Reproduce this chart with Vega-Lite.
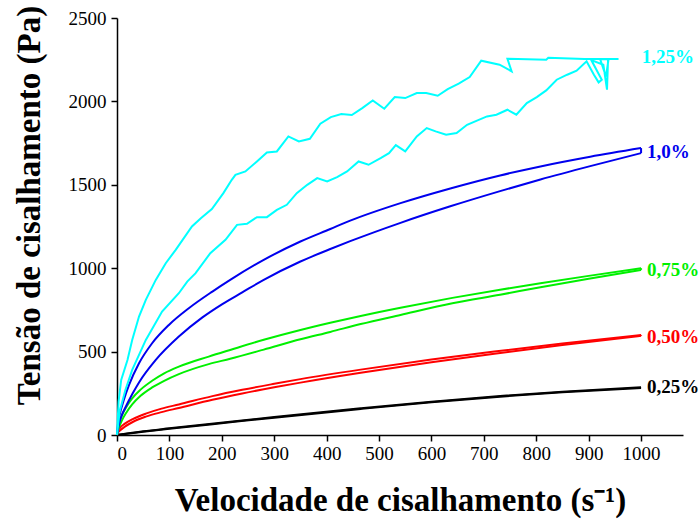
{
  "$schema": "https://vega.github.io/schema/vega-lite/v6.json",
  "autosize": "none",
  "width": 566,
  "height": 417,
  "padding": {"left": 117, "top": 18, "right": 16, "bottom": 85},
  "background": "white",
  "config": {
    "view": {"stroke": null},
    "font": "Liberation Serif",
    "axis": {
      "grid": false,
      "domainColor": "black",
      "domainWidth": 1.5,
      "tickColor": "black",
      "tickWidth": 1.5,
      "tickSize": 6,
      "labelFont": "Liberation Serif",
      "labelFontSize": 19,
      "labelColor": "black",
      "titleFont": "Liberation Serif",
      "titleFontSize": 33,
      "titleFontWeight": "bold",
      "titleColor": "black"
    }
  },
  "datasets": {
    "smooth": [
      {"s":"0,25%","b":"u","x":0,"y":0},{"s":"0,25%","b":"u","x":50,"y":22},{"s":"0,25%","b":"u","x":100,"y":40},{"s":"0,25%","b":"u","x":216,"y":80},{"s":"0,25%","b":"u","x":300,"y":108},{"s":"0,25%","b":"u","x":465,"y":160},{"s":"0,25%","b":"u","x":600,"y":200},{"s":"0,25%","b":"u","x":731,"y":234},{"s":"0,25%","b":"u","x":850,"y":260},{"s":"0,25%","b":"u","x":1000,"y":286},
      {"s":"0,25%","b":"l","x":0,"y":0},{"s":"0,25%","b":"l","x":50,"y":19},{"s":"0,25%","b":"l","x":100,"y":37},{"s":"0,25%","b":"l","x":216,"y":76},{"s":"0,25%","b":"l","x":300,"y":104},{"s":"0,25%","b":"l","x":465,"y":156},{"s":"0,25%","b":"l","x":600,"y":196},{"s":"0,25%","b":"l","x":731,"y":230},{"s":"0,25%","b":"l","x":850,"y":256},{"s":"0,25%","b":"l","x":1000,"y":282},

      {"s":"0,50%","b":"u","x":0,"y":0},{"s":"0,50%","b":"u","x":2,"y":25},{"s":"0,50%","b":"u","x":5,"y":40},{"s":"0,50%","b":"u","x":15,"y":68},{"s":"0,50%","b":"u","x":30,"y":95},{"s":"0,50%","b":"u","x":55,"y":128},{"s":"0,50%","b":"u","x":85,"y":158},{"s":"0,50%","b":"u","x":118,"y":183},{"s":"0,50%","b":"u","x":182,"y":233},{"s":"0,50%","b":"u","x":239,"y":271},{"s":"0,50%","b":"u","x":300,"y":307},{"s":"0,50%","b":"u","x":350,"y":335},{"s":"0,50%","b":"u","x":465,"y":392},{"s":"0,50%","b":"u","x":600,"y":452},{"s":"0,50%","b":"u","x":720,"y":500},{"s":"0,50%","b":"u","x":850,"y":548},{"s":"0,50%","b":"u","x":1000,"y":600},
      {"s":"0,50%","b":"l","x":0,"y":0},{"s":"0,50%","b":"l","x":2,"y":15},{"s":"0,50%","b":"l","x":5,"y":25},{"s":"0,50%","b":"l","x":15,"y":50},{"s":"0,50%","b":"l","x":30,"y":78},{"s":"0,50%","b":"l","x":55,"y":110},{"s":"0,50%","b":"l","x":85,"y":137},{"s":"0,50%","b":"l","x":118,"y":162},{"s":"0,50%","b":"l","x":182,"y":211},{"s":"0,50%","b":"l","x":239,"y":249},{"s":"0,50%","b":"l","x":300,"y":286},{"s":"0,50%","b":"l","x":350,"y":314},{"s":"0,50%","b":"l","x":465,"y":373},{"s":"0,50%","b":"l","x":600,"y":436},{"s":"0,50%","b":"l","x":720,"y":487},{"s":"0,50%","b":"l","x":850,"y":539},{"s":"0,50%","b":"l","x":1000,"y":595},
      {"s":"0,50%","b":"c","x":1000,"y":595},{"s":"0,50%","b":"c","x":1000,"y":600},

      {"s":"0,75%","b":"u","x":0,"y":0},{"s":"0,75%","b":"u","x":2,"y":50},{"s":"0,75%","b":"u","x":5,"y":80},{"s":"0,75%","b":"u","x":9,"y":115},{"s":"0,75%","b":"u","x":18,"y":170},{"s":"0,75%","b":"u","x":29,"y":220},{"s":"0,75%","b":"u","x":45,"y":272},{"s":"0,75%","b":"u","x":67,"y":325},{"s":"0,75%","b":"u","x":90,"y":370},{"s":"0,75%","b":"u","x":118,"y":410},{"s":"0,75%","b":"u","x":175,"y":470},{"s":"0,75%","b":"u","x":216,"y":510},{"s":"0,75%","b":"u","x":280,"y":571},{"s":"0,75%","b":"u","x":350,"y":630},{"s":"0,75%","b":"u","x":407,"y":673},{"s":"0,75%","b":"u","x":465,"y":714},{"s":"0,75%","b":"u","x":541,"y":763},{"s":"0,75%","b":"u","x":640,"y":822},{"s":"0,75%","b":"u","x":731,"y":871},{"s":"0,75%","b":"u","x":808,"y":910},{"s":"0,75%","b":"u","x":900,"y":954},{"s":"0,75%","b":"u","x":1000,"y":1000},
      {"s":"0,75%","b":"l","x":0,"y":0},{"s":"0,75%","b":"l","x":2,"y":30},{"s":"0,75%","b":"l","x":5,"y":55},{"s":"0,75%","b":"l","x":9,"y":85},{"s":"0,75%","b":"l","x":18,"y":135},{"s":"0,75%","b":"l","x":29,"y":183},{"s":"0,75%","b":"l","x":45,"y":235},{"s":"0,75%","b":"l","x":67,"y":285},{"s":"0,75%","b":"l","x":90,"y":325},{"s":"0,75%","b":"l","x":118,"y":365},{"s":"0,75%","b":"l","x":175,"y":425},{"s":"0,75%","b":"l","x":216,"y":457},{"s":"0,75%","b":"l","x":280,"y":512},{"s":"0,75%","b":"l","x":350,"y":574},{"s":"0,75%","b":"l","x":407,"y":618},{"s":"0,75%","b":"l","x":465,"y":665},{"s":"0,75%","b":"l","x":541,"y":720},{"s":"0,75%","b":"l","x":640,"y":790},{"s":"0,75%","b":"l","x":731,"y":841},{"s":"0,75%","b":"l","x":808,"y":886},{"s":"0,75%","b":"l","x":900,"y":937},{"s":"0,75%","b":"l","x":1000,"y":990},
      {"s":"0,75%","b":"c","x":1000,"y":990},{"s":"0,75%","b":"c","x":1000,"y":1000},

      {"s":"1,0%","b":"u","x":0,"y":0},{"s":"1,0%","b":"u","x":2,"y":70},{"s":"1,0%","b":"u","x":5,"y":120},{"s":"1,0%","b":"u","x":13,"y":210},{"s":"1,0%","b":"u","x":23,"y":300},{"s":"1,0%","b":"u","x":42,"y":430},{"s":"1,0%","b":"u","x":67,"y":550},{"s":"1,0%","b":"u","x":99,"y":660},{"s":"1,0%","b":"u","x":137,"y":760},{"s":"1,0%","b":"u","x":182,"y":860},{"s":"1,0%","b":"u","x":216,"y":930},{"s":"1,0%","b":"u","x":280,"y":1050},{"s":"1,0%","b":"u","x":350,"y":1160},{"s":"1,0%","b":"u","x":407,"y":1235},{"s":"1,0%","b":"u","x":445,"y":1285},{"s":"1,0%","b":"u","x":541,"y":1390},{"s":"1,0%","b":"u","x":636,"y":1478},{"s":"1,0%","b":"u","x":731,"y":1556},{"s":"1,0%","b":"u","x":808,"y":1610},{"s":"1,0%","b":"u","x":903,"y":1668},{"s":"1,0%","b":"u","x":1000,"y":1720},
      {"s":"1,0%","b":"l","x":0,"y":0},{"s":"1,0%","b":"l","x":2,"y":40},{"s":"1,0%","b":"l","x":5,"y":80},{"s":"1,0%","b":"l","x":10,"y":125},{"s":"1,0%","b":"l","x":16,"y":165},{"s":"1,0%","b":"l","x":30,"y":250},{"s":"1,0%","b":"l","x":42,"y":315},{"s":"1,0%","b":"l","x":74,"y":450},{"s":"1,0%","b":"l","x":118,"y":590},{"s":"1,0%","b":"l","x":163,"y":705},{"s":"1,0%","b":"l","x":201,"y":785},{"s":"1,0%","b":"l","x":239,"y":855},{"s":"1,0%","b":"l","x":280,"y":930},{"s":"1,0%","b":"l","x":350,"y":1040},{"s":"1,0%","b":"l","x":407,"y":1115},{"s":"1,0%","b":"l","x":445,"y":1162},{"s":"1,0%","b":"l","x":541,"y":1272},{"s":"1,0%","b":"l","x":636,"y":1371},{"s":"1,0%","b":"l","x":731,"y":1462},{"s":"1,0%","b":"l","x":808,"y":1532},{"s":"1,0%","b":"l","x":903,"y":1612},{"s":"1,0%","b":"l","x":1000,"y":1690},
      {"s":"1,0%","b":"c","x":1000,"y":1690},{"s":"1,0%","b":"c","x":1000,"y":1720}
    ],
    "cyan": [
      {"s":"1,25%","o":1,"x":0,"y":0},{"s":"1,25%","o":2,"x":5,"y":140},{"s":"1,25%","o":3,"x":16,"y":270},{"s":"1,25%","o":4,"x":29,"y":390},{"s":"1,25%","o":5,"x":55,"y":570},{"s":"1,25%","o":6,"x":86,"y":740},{"s":"1,25%","o":7,"x":118,"y":850},{"s":"1,25%","o":8,"x":134,"y":920},{"s":"1,25%","o":9,"x":150,"y":970},{"s":"1,25%","o":10,"x":178,"y":1090},{"s":"1,25%","o":11,"x":207,"y":1170},{"s":"1,25%","o":12,"x":229,"y":1260},{"s":"1,25%","o":13,"x":248,"y":1266},{"s":"1,25%","o":14,"x":267,"y":1306},{"s":"1,25%","o":15,"x":286,"y":1306},{"s":"1,25%","o":16,"x":305,"y":1350},{"s":"1,25%","o":17,"x":324,"y":1380},{"s":"1,25%","o":18,"x":343,"y":1450},{"s":"1,25%","o":19,"x":363,"y":1500},{"s":"1,25%","o":20,"x":382,"y":1540},{"s":"1,25%","o":21,"x":401,"y":1520},{"s":"1,25%","o":22,"x":420,"y":1546},{"s":"1,25%","o":23,"x":439,"y":1580},{"s":"1,25%","o":24,"x":461,"y":1640},{"s":"1,25%","o":25,"x":480,"y":1620},{"s":"1,25%","o":26,"x":503,"y":1660},{"s":"1,25%","o":27,"x":519,"y":1690},{"s":"1,25%","o":28,"x":532,"y":1738},{"s":"1,25%","o":29,"x":550,"y":1700},{"s":"1,25%","o":30,"x":572,"y":1790},{"s":"1,25%","o":31,"x":591,"y":1840},{"s":"1,25%","o":32,"x":608,"y":1820},{"s":"1,25%","o":33,"x":628,"y":1800},{"s":"1,25%","o":34,"x":648,"y":1810},{"s":"1,25%","o":35,"x":668,"y":1860},{"s":"1,25%","o":36,"x":688,"y":1886},{"s":"1,25%","o":37,"x":706,"y":1910},{"s":"1,25%","o":38,"x":724,"y":1920},{"s":"1,25%","o":39,"x":745,"y":1950},{"s":"1,25%","o":40,"x":762,"y":1920},{"s":"1,25%","o":41,"x":782,"y":1990},{"s":"1,25%","o":42,"x":801,"y":2026},{"s":"1,25%","o":43,"x":819,"y":2066},{"s":"1,25%","o":44,"x":839,"y":2130},{"s":"1,25%","o":45,"x":859,"y":2160},{"s":"1,25%","o":46,"x":877,"y":2184},{"s":"1,25%","o":47,"x":896,"y":2240},
      {"s":"1,25%","o":48,"x":910,"y":2160},{"s":"1,25%","o":49,"x":919,"y":2114},{"s":"1,25%","o":50,"x":925,"y":2130},{"s":"1,25%","o":51,"x":905,"y":2248},{"s":"1,25%","o":52,"x":928,"y":2220},{"s":"1,25%","o":53,"x":935,"y":2070},{"s":"1,25%","o":54,"x":937,"y":2254},{"s":"1,25%","o":55,"x":922,"y":2252},{"s":"1,25%","o":56,"x":933,"y":2150},{"s":"1,25%","o":57,"x":938,"y":2254},{"s":"1,25%","o":58,"x":957,"y":2254},
      {"s":"1,25%","o":59,"x":892,"y":2254},{"s":"1,25%","o":60,"x":823,"y":2262},{"s":"1,25%","o":61,"x":819,"y":2250},{"s":"1,25%","o":62,"x":745,"y":2256},{"s":"1,25%","o":63,"x":753,"y":2180},{"s":"1,25%","o":64,"x":730,"y":2220},{"s":"1,25%","o":65,"x":695,"y":2244},{"s":"1,25%","o":66,"x":673,"y":2146},{"s":"1,25%","o":67,"x":652,"y":2106},{"s":"1,25%","o":68,"x":631,"y":2074},{"s":"1,25%","o":69,"x":612,"y":2034},{"s":"1,25%","o":70,"x":590,"y":2050},{"s":"1,25%","o":71,"x":572,"y":2050},{"s":"1,25%","o":72,"x":550,"y":2020},{"s":"1,25%","o":73,"x":530,"y":2026},{"s":"1,25%","o":74,"x":510,"y":1956},{"s":"1,25%","o":75,"x":488,"y":2006},{"s":"1,25%","o":76,"x":468,"y":1960},{"s":"1,25%","o":77,"x":448,"y":1918},{"s":"1,25%","o":78,"x":428,"y":1924},{"s":"1,25%","o":79,"x":408,"y":1906},{"s":"1,25%","o":80,"x":388,"y":1866},{"s":"1,25%","o":81,"x":368,"y":1776},{"s":"1,25%","o":82,"x":347,"y":1760},{"s":"1,25%","o":83,"x":327,"y":1790},{"s":"1,25%","o":84,"x":305,"y":1700},{"s":"1,25%","o":85,"x":286,"y":1694},{"s":"1,25%","o":86,"x":267,"y":1640},{"s":"1,25%","o":87,"x":245,"y":1580},{"s":"1,25%","o":88,"x":226,"y":1560},{"s":"1,25%","o":89,"x":219,"y":1530},{"s":"1,25%","o":90,"x":203,"y":1450},{"s":"1,25%","o":91,"x":181,"y":1355},{"s":"1,25%","o":92,"x":160,"y":1300},{"s":"1,25%","o":93,"x":143,"y":1250},{"s":"1,25%","o":94,"x":112,"y":1110},{"s":"1,25%","o":95,"x":93,"y":1030},{"s":"1,25%","o":96,"x":74,"y":930},{"s":"1,25%","o":97,"x":55,"y":810},{"s":"1,25%","o":98,"x":42,"y":710},{"s":"1,25%","o":99,"x":29,"y":570},{"s":"1,25%","o":100,"x":20,"y":450},{"s":"1,25%","o":101,"x":8,"y":330},{"s":"1,25%","o":102,"x":3,"y":200},{"s":"1,25%","o":103,"x":0,"y":0}
    ],
    "labels": [
      {"s":"1,25%","x":990,"y":2265},
      {"s":"1,0%","x":1000,"y":1698},
      {"s":"0,75%","x":1000,"y":990},
      {"s":"0,50%","x":1000,"y":588},
      {"s":"0,25%","x":1000,"y":285}
    ]
  },
  "encoding": {
    "x": {
      "field": "x", "type": "quantitative",
      "scale": {"domain": [0, 1080], "nice": false, "zero": false},
      "axis": {
        "values": [0,100,200,300,400,500,600,700,800,900,1000],
        "format": "d",
        "title": "Velocidade de cisalhamento (s⁻¹)",
        "labelPadding": 3,
        "titleY": 75,
        "titleBaseline": "alphabetic"
      }
    },
    "y": {
      "field": "y", "type": "quantitative",
      "scale": {"domain": [0, 2500], "nice": false},
      "axis": {
        "values": [0,500,1000,1500,2000,2500],
        "format": "d",
        "title": "Tensão de cisalhamento (Pa)",
        "labelPadding": 5,
        "titleX": -78,
        "titleY": 187,
        "titleAngle": -90,
        "titleAlign": "center",
        "titleBaseline": "alphabetic"
      }
    },
    "color": {
      "field": "s", "type": "nominal",
      "scale": {"domain": ["1,25%","1,0%","0,75%","0,50%","0,25%"], "range": ["#00FFFF","#0000EE","#00F000","#FF0000","#000000"]},
      "legend": null
    }
  },
  "layer": [
    {
      "data": {"name": "smooth"},
      "mark": {"type": "line", "strokeWidth": 2, "interpolate": "monotone"},
      "encoding": {
        "detail": {"field": "b"}
      }
    },
    {
      "data": {"name": "cyan"},
      "mark": {"type": "line", "strokeWidth": 2, "interpolate": "linear"},
      "encoding": {
        "order": {"field": "o", "type": "quantitative"}
      }
    },
    {
      "data": {"name": "labels"},
      "mark": {"type": "text", "align": "left", "baseline": "middle", "dx": 6, "font": "Liberation Serif", "fontSize": 19, "fontWeight": "bold"},
      "encoding": {
        "text": {"field": "s"}
      }
    }
  ]
}
